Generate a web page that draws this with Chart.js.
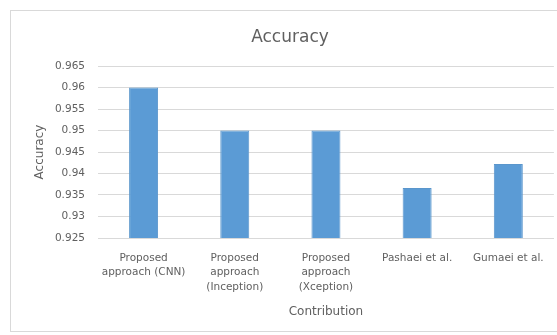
<!DOCTYPE html>
<html>
<head>
<meta charset="utf-8">
<script src="https://cdn.jsdelivr.net/npm/chart.js@4/dist/chart.umd.min.js"></script>
<style>
  html, body { margin: 0; padding: 0; background: #fff; }
  #wrap { width: 557px; height: 335px; }
</style>
</head>
<body>
<div id="wrap"><canvas id="chart"></canvas></div>
<script>
// categories and accuracy per approach
const categories = [
    ['Proposed', 'approach (CNN)'],
    ['Proposed', 'approach', '(Inception)'],
    ['Proposed', 'approach', '(Xception)'],
    'Pashaei et al.',
    'Gumaei et al.'
];
const accuracy = [0.96, 0.95, 0.95, 0.9366, 0.9422];

const yMin = 0.925;
const yMax = 0.965;
const yStep = 0.005;

const grey = '#606060';
const font = 'DejaVu Sans';

// light frame round the whole chart plus the title
const frame = {
    id: 'frame',
    beforeDraw(chart) {
        const ctx = chart.ctx;
        ctx.save();
        ctx.fillStyle = '#fff';
        ctx.fillRect(0, 0, chart.width, chart.height);
        ctx.strokeStyle = '#d9d9d9';
        ctx.lineWidth = 1;
        ctx.strokeRect(10.5, 10.5, 560, 321);
        ctx.fillStyle = grey;
        ctx.font = '17px "' + font + '"';
        ctx.textAlign = 'center';
        ctx.textBaseline = 'middle';
        ctx.fillText('Accuracy', 290, 38);
        ctx.restore();
    }
};

new Chart(document.getElementById('chart'), {
    type: 'bar',
    data: {
        labels: categories,
        datasets: [{
            label: 'Accuracy',
            data: accuracy,
            backgroundColor: '#5b9bd5',
            borderColor: '#5a96cc',
            borderWidth: 1,
            categoryPercentage: 1,
            barPercentage: 0.318
        }]
    },
    options: {
        responsive: true,
        maintainAspectRatio: false,
        animation: false,
        layout: { padding: { left: 33, right: 3, top: 66, bottom: 16 } },
        plugins: {
            legend: { display: false },
            tooltip: { enabled: false }
        },
        scales: {
            x: {
                grid: { display: false, drawTicks: false },
                border: { display: true, color: '#d9d9d9' },
                ticks: {
                    color: grey,
                    font: { family: font, size: 10.5, lineHeight: 1.38 },
                    padding: 13,
                    maxRotation: 0,
                    autoSkip: false
                },
                title: {
                    display: true,
                    text: 'Contribution',
                    color: grey,
                    font: { family: font, size: 12 },
                    padding: 0
                },
                afterFit(scale) { scale.height = 81; }
            },
            y: {
                min: yMin,
                max: yMax,
                grid: { color: '#d9d9d9', drawTicks: false },
                border: { display: false },
                ticks: {
                    stepSize: yStep,
                    color: grey,
                    font: { family: font, size: 10.5 },
                    padding: 13,
                    callback: v => String(+v.toFixed(3))
                },
                title: {
                    display: true,
                    text: 'Accuracy',
                    color: grey,
                    font: { family: font, size: 12 },
                    padding: 0
                },
                afterFit(scale) { scale.width = 65; }
            }
        }
    },
    plugins: [frame]
});
</script>
</body>
</html>
